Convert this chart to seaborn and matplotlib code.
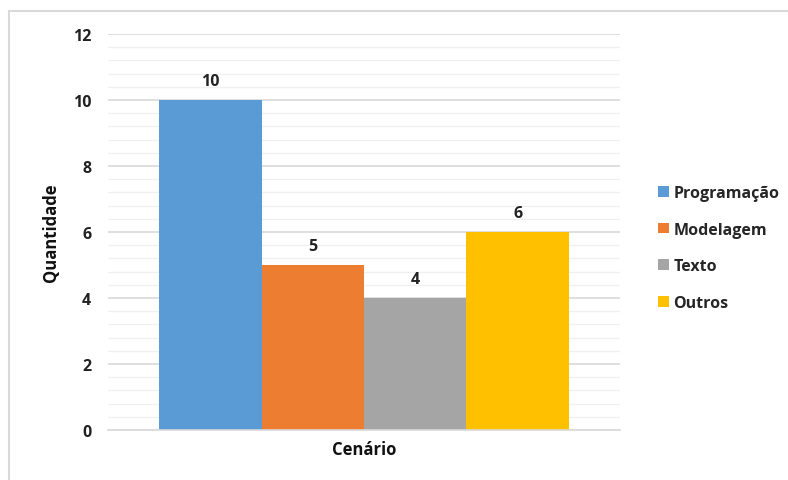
import matplotlib
matplotlib.use("Agg")
import matplotlib.pyplot as plt
import seaborn as sns
import pandas as pd
from matplotlib.patches import Rectangle, Patch
from matplotlib.ticker import MultipleLocator

categories = ["Cenário"]
series = ["Programação", "Modelagem", "Texto", "Outros"]
values = [10, 5, 4, 6]
colors = ["#5B9BD5", "#ED7D31", "#A5A5A5", "#FFC000"]

df = pd.DataFrame({"cat": categories * len(series), "serie": series, "val": values})

sns.set_style("white")
plt.rcParams["font.family"] = ["Open Sans", "DejaVu Sans"]

fig = plt.figure(figsize=(7.88, 4.81), dpi=100)
W, H = 788, 481
ax = fig.add_axes([108 / W, 1 - 431 / H, (620 - 108) / W, (431 - 35) / H])

sns.barplot(data=df, x="cat", y="val", hue="serie", hue_order=series,
            palette=colors, width=0.8, ax=ax, legend=False, saturation=1,
            linewidth=0)

ax.set_ylim(0, 12)
ax.set_xlim(-0.5, 0.5)
ax.yaxis.set_major_locator(MultipleLocator(2))
ax.yaxis.set_minor_locator(MultipleLocator(0.4))
ax.grid(axis="y", which="major", color="#D9D9D9", linewidth=1.2, zorder=0)
ax.grid(axis="y", which="minor", color="#F0F0F0", linewidth=1.0, zorder=0)
ax.set_axisbelow(True)
for s in ["top", "right", "left"]:
    ax.spines[s].set_visible(False)
ax.spines["bottom"].set_color("#D9D9D9")
ax.spines["bottom"].set_linewidth(1.2)
ax.tick_params(axis="both", which="both", length=0)
ax.tick_params(axis="y", pad=12)
ax.set_xticks([])
for lbl in ax.get_yticklabels():
    lbl.set_fontweight("bold")
    lbl.set_fontsize(11.5)
    lbl.set_color("#222222")

ax.set_ylabel("Quantidade", fontsize=12, fontweight="bold", color="#111111", labelpad=9)
ax.set_xlabel("Cenário", fontsize=12, fontweight="bold", color="#111111", labelpad=7)

for cont in ax.containers:
    ax.bar_label(cont, labels=[f"{v:g}" for v in cont.datavalues], padding=8,
                 fontsize=11.5, fontweight="bold", color="#222222")

handles = [Patch(facecolor=c, edgecolor="none") for c in colors]
fig.legend(handles, series, loc="center left", bbox_to_anchor=(644 / W, 1 - 249 / H),
           frameon=False, handlelength=0.65, handleheight=0.65, handletextpad=0.3,
           labelspacing=1.3, prop={"weight": "bold", "size": 11.5})

fig.patches.append(Rectangle((8.5 / W, -0.1), 1.2, 1.1 - 11.5 / H, transform=fig.transFigure,
                             fill=False, edgecolor="#D9D9D9", linewidth=1.5))

fig.savefig("out.png", dpi=100)
